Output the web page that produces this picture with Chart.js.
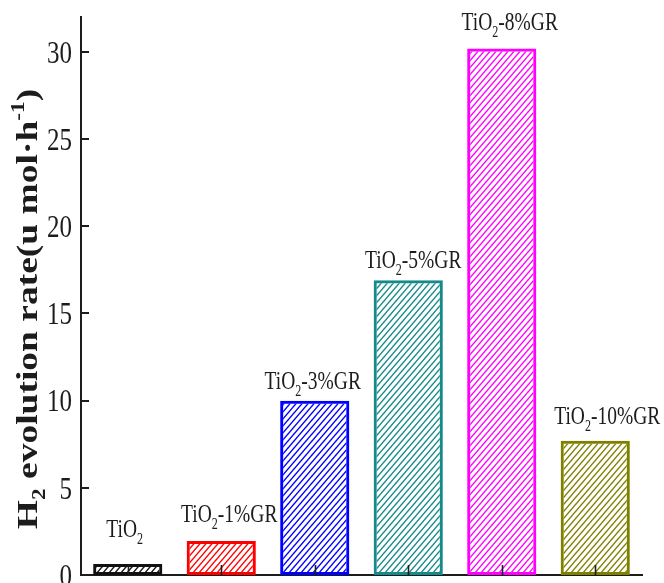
<!DOCTYPE html>
<html>
<head>
<meta charset="utf-8">
<script src="https://cdn.jsdelivr.net/npm/chart.js@4/dist/chart.umd.min.js"></script>
<style>
  html, body { margin: 0; padding: 0; background: #fff; }
  #wrap { width: 664px; height: 583px; }
</style>
</head>
<body>
<div id="wrap"><canvas id="c" width="664" height="583"></canvas></div>
<script>
// Catalyst samples and their H2 evolution rates (µmol·h⁻¹)
const categories = ['TiO2', 'TiO2-1%GR', 'TiO2-3%GR', 'TiO2-5%GR', 'TiO2-8%GR', 'TiO2-10%GR'];
const rates = [0.63, 1.95, 10.0, 16.9, 30.2, 7.7];
const barColors = ['#111111', '#ff0000', '#0000ff', '#168a8a', '#ff00ff', '#808000'];
const yTicks = [0, 5, 10, 15, 20, 25, 30];
const yMax = 32;

// hand-tuned label placement: [horizontal shift, gap between baseline and bar top]
const labelNudge = [[-3, 27], [8, 19], [-2, 12], [5, 12], [8, 18], [12, 17]];

const SERIF = '"Liberation Serif", "Times New Roman", serif';
const INK = '#1c1c1c';

// diagonal "///" fill for each bar
function hatch(color) {
  const w = 6, h = 7;
  const c = document.createElement('canvas');
  c.width = w; c.height = h;
  const g = c.getContext('2d');
  g.strokeStyle = color;
  g.lineWidth = 1.4;
  g.beginPath();
  g.moveTo(0, h); g.lineTo(w, 0);
  g.moveTo(-w, h); g.lineTo(0, 0);
  g.moveTo(w, 2 * h); g.lineTo(2 * w, h);
  g.moveTo(-1, 1); g.lineTo(1, -1);
  g.moveTo(w - 1, h + 1); g.lineTo(w + 1, h - 1);
  g.stroke();
  return g.createPattern(c, 'repeat');
}

// split "TiO2-x%GR" into runs with a subscript 2
function toParts(name) {
  const m = name.match(/^(TiO)(2)(.*)$/);
  return [{ t: m[1] }, { t: m[2], k: 'sub' }, { t: m[3] }].filter(p => p.t);
}

function partFont(p, size, weight) {
  const sz = p.k ? size * 0.62 : size;
  return `${weight} ${sz}px ${SERIF}`;
}
function richWidth(ctx, parts, size, weight) {
  let w = 0;
  for (const p of parts) { ctx.font = partFont(p, size, weight); w += ctx.measureText(p.t).width; }
  return w;
}
function drawRich(ctx, parts, x, y, size, weight) {
  let cx = x;
  ctx.textBaseline = 'alphabetic';
  ctx.textAlign = 'left';
  for (const p of parts) {
    ctx.font = partFont(p, size, weight);
    const dy = p.k === 'sub' ? size * 0.28 : p.k === 'sup' ? -size * 0.42 : 0;
    ctx.fillText(p.t, cx, y + dy);
    cx += ctx.measureText(p.t).width;
  }
}

const axisDecor = {
  id: 'axisDecor',
  afterDatasetsDraw(chart) {
    const { ctx, chartArea: a, scales: { x, y } } = chart;
    ctx.save();
    ctx.strokeStyle = INK;
    ctx.fillStyle = INK;

    // inward tick marks on the y axis
    ctx.lineWidth = 2;
    yTicks.forEach(v => {
      const py = Math.round(y.getPixelForValue(v));
      ctx.beginPath(); ctx.moveTo(a.left, py); ctx.lineTo(a.left + 8, py); ctx.stroke();
    });
    // inward tick marks at category centres
    ctx.lineWidth = 1.6;
    categories.forEach((c, i) => {
      const px = Math.round(x.getPixelForValue(i)) + 0.5;
      ctx.beginPath(); ctx.moveTo(px, a.bottom); ctx.lineTo(px, a.bottom - 10); ctx.stroke();
    });

    // y tick labels
    const tSize = 25, tStretch = 1.28;
    ctx.font = `${tSize}px ${SERIF}`;
    ctx.textAlign = 'right';
    ctx.textBaseline = 'alphabetic';
    yTicks.forEach(v => {
      const py = y.getPixelForValue(v);
      ctx.save();
      ctx.translate(a.left - 9, py);
      ctx.scale(1, tStretch);
      ctx.fillText(String(v), 0, tSize * 0.338);
      ctx.restore();
    });

    // sample names above the bars
    const lSize = 19.5, lStretch = 1.3;
    const meta = chart.getDatasetMeta(0);
    meta.data.forEach((bar, i) => {
      const parts = toParts(categories[i]);
      const w = richWidth(ctx, parts, lSize, 'normal');
      const [dx, gap] = labelNudge[i];
      ctx.save();
      ctx.translate(bar.x + dx, bar.y - gap);
      ctx.scale(1, lStretch);
      drawRich(ctx, parts, -w / 2, 0, lSize, 'normal');
      ctx.restore();
    });

    // rotated y-axis title
    const title = [
      { t: 'H' }, { t: '2', k: 'sub' }, { t: ' evolution rate(u mol\u00B7h' },
      { t: '-1', k: 'sup' }, { t: ')' }
    ];
    const ySize = 30, yStretch = 1.25;
    const tw = richWidth(ctx, title, ySize, 'bold');
    ctx.save();
    ctx.translate(37, 309);
    ctx.rotate(-Math.PI / 2);
    ctx.scale(yStretch, 1);
    drawRich(ctx, title, -tw / 2, 0, ySize, 'bold');
    ctx.restore();

    ctx.restore();
  }
};

new Chart(document.getElementById('c'), {
  type: 'bar',
  data: {
    labels: categories,
    datasets: [{
      data: rates,
      backgroundColor: barColors.map(hatch),
      borderColor: barColors,
      borderWidth: 3,
      borderSkipped: false,
      barPercentage: 0.74,
      categoryPercentage: 1
    }]
  },
  options: {
    responsive: false,
    animation: false,
    layout: { padding: { top: 17, right: 22, left: 0, bottom: 0 } },
    plugins: { legend: { display: false }, tooltip: { enabled: false } },
    scales: {
      x: {
        grid: { display: false },
        border: { display: true, color: INK, width: 2 },
        ticks: { display: false },
        afterFit(s) { s.height = 8; }
      },
      y: {
        min: 0,
        max: yMax,
        grid: { display: false },
        border: { display: true, color: INK, width: 2 },
        ticks: { display: false, stepSize: 5 },
        afterFit(s) { s.width = 81; }
      }
    }
  },
  plugins: [axisDecor]
});
</script>
</body>
</html>
